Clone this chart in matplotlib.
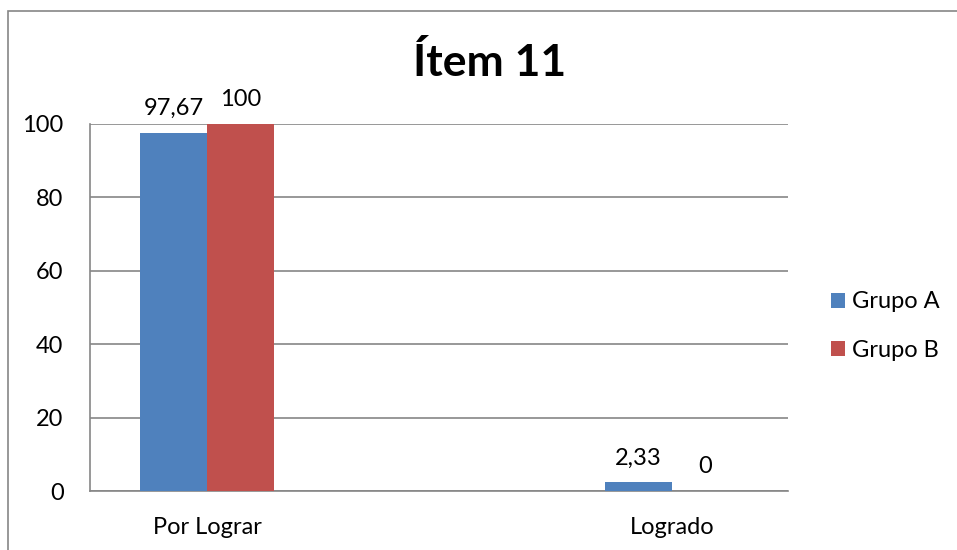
import matplotlib.pyplot as plt
from matplotlib.patches import Rectangle
import numpy as np

plt.rcParams['font.family'] = ['Lato', 'DejaVu Sans']

categories = ["Por Lograr", "Logrado"]
grupo_a = [97.67, 2.33]
grupo_b = [100, 0]
labels_a = ["97,67", "2,33"]
labels_b = ["100", "0"]
series_names = ["Grupo A", "Grupo B"]
yticks = [0, 20, 40, 60, 80, 100]

blue = "#4F81BD"
red = "#C0504D"
gray = "#868686"

fig = plt.figure(figsize=(9.57, 5.5), dpi=100)
ax = fig.add_axes([90/957, 1-491/550, 698/957, 367/550])

# outer chart frame (cut off at right/bottom like the source)
fig.patches.append(Rectangle((8/957, -0.1), 1.2, 1-11/550+0.1, transform=fig.transFigure,
                             fill=False, edgecolor=gray, lw=1.2))

x = np.arange(len(categories))
w = 0.144
bars_a = ax.bar(x - w/2, grupo_a, w, color=blue, label=series_names[0], zorder=3)
bars_b = ax.bar(x + w/2, grupo_b, w, color=red, label=series_names[1], zorder=3)

for bars, labs in [(bars_a, labels_a), (bars_b, labels_b)]:
    for b, lab in zip(bars, labs):
        ax.annotate(lab, (b.get_x() + b.get_width()/2, b.get_height()),
                    xytext=(0, 10), textcoords="offset points",
                    ha="center", va="bottom", fontsize=17)

ax.set_xlim(-0.2516, 1.2495)
ax.set_ylim(0, 100)
ax.set_yticks(yticks)
ax.set_xticks(x, categories)
ax.tick_params(axis="both", length=0, labelsize=17)
ax.tick_params(axis="y", pad=19)
ax.tick_params(axis="x", pad=19)
ax.grid(axis="y", color=gray, lw=1.2, zorder=0)
for s in ["top", "right"]:
    ax.spines[s].set_visible(False)
for s in ["left", "bottom"]:
    ax.spines[s].set_color(gray)
    ax.spines[s].set_linewidth(1.2)

fig.text(490/957, 1-62/550, "Ítem 11", ha="center", va="center",
         fontsize=32, fontweight="bold")

fig.legend(handles=[bars_a, bars_b], labels=series_names, loc="center left",
           bbox_to_anchor=(810/957, 1-326/550), frameon=False, fontsize=17,
           handlelength=0.6, handleheight=0.6, handletextpad=0.3,
           labelspacing=1.15)

fig.savefig("out.png", dpi=100)
